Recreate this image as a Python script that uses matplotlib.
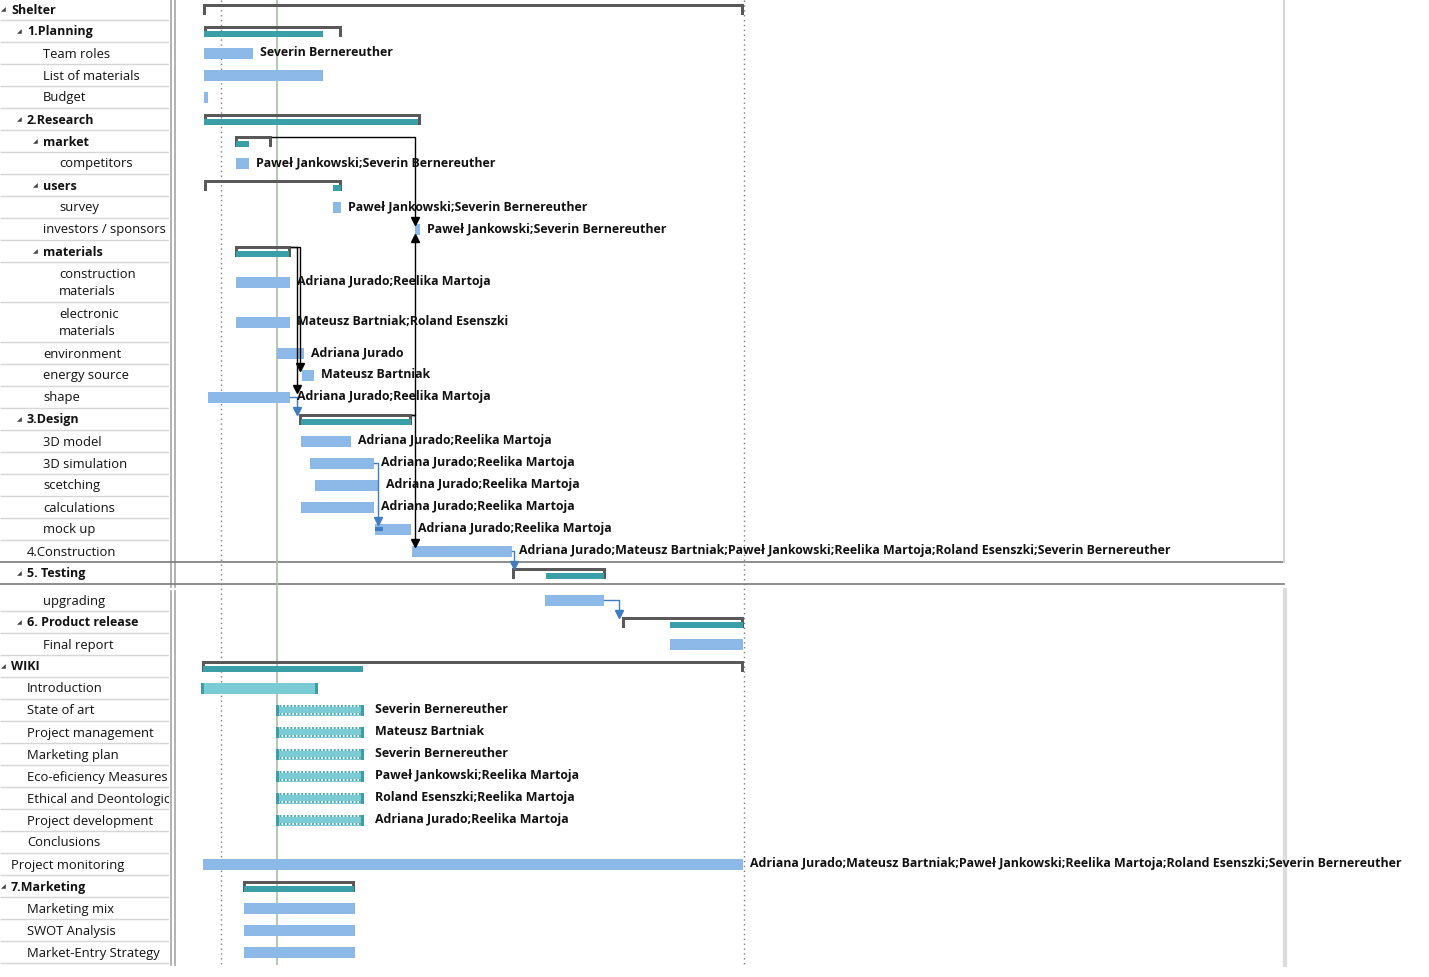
import matplotlib
matplotlib.use("Agg")
import matplotlib.pyplot as plt
from matplotlib.patches import Rectangle

# ---------------- data ----------------
task_names = [
    "Shelter", "1.Planning", "Team roles", "List of materials", "Budget",
    "2.Research", "market", "competitors", "users", "survey",
    "investors / sponsors", "materials", "construction\nmaterials", "electronic\nmaterials",
    "environment", "energy source", "shape", "3.Design", "3D model", "3D simulation",
    "scetching", "calculations", "mock up", "4.Construction", "5. Testing",
    "upgrading", "6. Product release", "Final report", "WIKI", "Introduction",
    "State of art", "Project management", "Marketing plan", "Eco-eficiency Measures",
    "Ethical and Deontological Aspects", "Project development", "Conclusions",
    "Project monitoring", "7.Marketing", "Marketing mix", "SWOT Analysis",
    "Market-Entry Strategy",
]
outline_level = [0, 1, 2, 2, 2, 1, 2, 3, 2, 3, 2, 2, 3, 3, 2, 2, 2, 1, 2, 2, 2, 2, 2, 1, 1,
                 2, 1, 2, 0, 1, 1, 1, 1, 1, 1, 1, 1, 0, 0, 1, 1, 1]
bar_kind = ["summary", "summary", "task", "task", "task", "summary", "summary", "task",
            "summary", "task", "task", "summary", "task", "task", "task", "task", "task",
            "summary", "task", "task", "task", "task", "task", "task", "summary", "task",
            "summary", "task", "summary", "manual", "dotted", "dotted", "dotted", "dotted",
            "dotted", "dotted", "none", "task", "summary", "task", "task", "task"]
# start / finish in project days
start_day = [-0.1, 0, 0, 0, 0, 0, 3.9, 4.0, 0, 16.1, 26.4, 3.9, 4.0, 4.0, 9.1, 12.25, 0.5,
             11.9, 12.1, 13.25, 13.9, 12.1, 21.4, 26.0, 38.5, 42.6, 52.25, 58.25, -0.25,
             -0.4, 9.0, 9.0, 9.0, 9.0, 9.0, 9.0, None, -0.1, 4.9, 5.0, 5.0, 5.0]
finish_day = [67.5, 17.25, 6.1, 14.9, 0.5, 27.1, 8.5, 5.6, 17.25, 17.1, 27.0, 10.9, 10.75,
              10.75, 12.5, 13.75, 10.75, 26.0, 18.4, 21.25, 21.9, 21.25, 25.9, 38.5, 50.25,
              50.0, 67.5, 67.4, 67.5, 14.25, 20.0, 20.0, 20.0, 20.0, 20.0, 20.0, None,
              67.4, 18.9, 18.9, 18.9, 18.9]
# rolled-up (teal) segment of summary bars
rollup_start = [None, 0, None, None, None, 0, 4.0, None, 16.1, None, None, 4.0, None, None,
                None, None, None, 12.1, None, None, None, None, None, None, 42.75, None,
                58.25, None, -0.1, None, None, None, None, None, None, None, None, None,
                5.0, None, None, None]
rollup_end = [None, 14.9, None, None, None, 26.75, 5.6, None, 17.1, None, None, 10.6, None,
              None, None, None, None, 25.9, None, None, None, None, None, None, 50.0, None,
              67.4, None, 19.9, None, None, None, None, None, None, None, None, None,
              18.75, None, None, None]
AJ, MB, PJ, RM, RE, SB = ("Adriana Jurado", "Mateusz Bartniak", "Paweł Jankowski",
                          "Reelika Martoja", "Roland Esenszki", "Severin Bernereuther")
ALL = ";".join([AJ, MB, PJ, RM, RE, SB])
resources = ["", "", SB, "", "", "", "", PJ + ";" + SB, "", PJ + ";" + SB, PJ + ";" + SB, "",
             AJ + ";" + RM, MB + ";" + RE, AJ, MB, AJ + ";" + RM, "", AJ + ";" + RM,
             AJ + ";" + RM, AJ + ";" + RM, AJ + ";" + RM, AJ + ";" + RM, ALL, "", "", "", "",
             "", "", SB, MB, SB, PJ + ";" + RM, RE + ";" + RM, AJ + ";" + RM, "", ALL, "", "",
             "", ""]
row_units = [1] * 12 + [40 / 22, 40 / 22] + [1] * 28
mock_up_progress = (21.4, 22.4)
# dependency links: (from row, to row, routing day, colour key)
links = [(6, 10, 26.4, "k"), (17, 10, 26.4, "k"), (17, 23, 26.4, "k"),
         (11, 15, 12.0, "k"), (11, 16, 11.6, "k"), (16, 17, 11.6, "b"),
         (19, 22, 21.75, "b"), (23, 24, 38.75, "b"), (25, 26, 51.9, "b")]
status_days = [2.1, 67.5]
today_day = 9.1

# ---------------- layout ----------------
W, H, DPI = 1429, 977, 100
ROW = 22.0
PX_PER_DAY = 8.0
X0PX = 204.0
GANTT_LEFT = 176
BORDER_X = 1284
SPLIT_TOP, SPLIT_BOT, GAP = 562, 584, 5

C_BRACKET = "#595959"
C_TEAL = "#3a9fa7"
C_TASK = "#8db9e8"
C_MAN = "#7acbd3"
C_MAN_CAP = "#3e9ea6"
C_LINKB = "#3f7dc3"

FONT = ["Open Sans", "DejaVu Sans"]
plt.rcParams["font.family"] = FONT

fig = plt.figure(figsize=(W / DPI, H / DPI), dpi=DPI)
fig.patch.set_facecolor("white")

# row geometry
tops, centers = [], []
y = -2.0
for i, u in enumerate(row_units):
    if i == 25:
        y += GAP
    h = u * ROW
    tops.append(y)
    centers.append(y + h / 2)
    y += h
bottoms = [t + u * ROW for t, u in zip(tops, row_units)]
table_bottom = bottoms[-1]

# overlay for frame lines (pixel coords)
ov = fig.add_axes([0, 0, 1, 1])
ov.set_xlim(0, W)
ov.set_ylim(H, 0)
ov.axis("off")

# table axes
TW = 169
axt = fig.add_axes([0, 0, TW / W, 1])
axt.set_xlim(0, TW)
axt.set_ylim(H, 0)
axt.axis("off")

# gantt axes
axg = fig.add_axes([GANTT_LEFT / W, 0, (W - GANTT_LEFT) / W, 1])
axg.set_xlim((GANTT_LEFT - X0PX) / PX_PER_DAY, (W - X0PX) / PX_PER_DAY)
axg.set_ylim(H, 0)
axg.axis("off")
dpx = 1.0 / PX_PER_DAY  # one pixel in days

# ---- table ----
for i, name in enumerate(task_names):
    lvl = outline_level[i]
    summ = bar_kind[i] == "summary"
    tx = 11 + 16 * lvl
    axt.text(tx, centers[i] + 1.0, name, fontsize=9.0 if summ else 9.4, va="center",
             ha="left", fontweight="bold" if summ else "normal", color="#111111",
             clip_on=True, linespacing=1.35)
    if summ:
        axt.text(tx - 8, centers[i] + 0.5, "\u25e2", fontsize=4.5, va="center", ha="center",
                 color="#404040", family="DejaVu Sans")
    b = bottoms[i]
    if i not in (23, 24):
        axt.plot([0, TW], [b, b], color="#d6d6d6", lw=1.0, solid_capstyle="butt")

# ---- gantt grid lines ----
axg.vlines(status_days, 0, table_bottom + 2, colors="#7f7f7f", linestyles=(0, (1, 2.5)), lw=1.0)
axg.vlines([today_day], 0, table_bottom + 2, colors="#a3c2a3", lw=1.2)

# ---- bars ----
for i in range(len(task_names)):
    k = bar_kind[i]
    s, f, c = start_day[i], finish_day[i], centers[i]
    if k == "none":
        continue
    if k == "summary":
        axg.add_patch(Rectangle((s, c - 5.5), f - s, 3, color=C_BRACKET, lw=0, zorder=3))
        axg.add_patch(Rectangle((s, c - 5.5), 3 * dpx, 11.5, color=C_BRACKET, lw=0, zorder=3))
        axg.add_patch(Rectangle((f - 3 * dpx, c - 5.5), 3 * dpx, 11.5, color=C_BRACKET, lw=0, zorder=3))
        if rollup_start[i] is not None:
            axg.add_patch(Rectangle((rollup_start[i], c - 0.5), rollup_end[i] - rollup_start[i], 6,
                                    color=C_TEAL, lw=0, zorder=4))
    elif k == "task":
        axg.add_patch(Rectangle((s, c - 5.5), f - s, 11, color=C_TASK, lw=0, zorder=3))
    elif k == "manual":
        axg.add_patch(Rectangle((s, c - 5.5), f - s, 11, color=C_MAN, lw=0, zorder=3))
        axg.add_patch(Rectangle((s, c - 5.5), 3 * dpx, 11, color=C_MAN_CAP, lw=0, zorder=4))
        axg.add_patch(Rectangle((f - 3 * dpx, c - 5.5), 3 * dpx, 11, color=C_MAN_CAP, lw=0, zorder=4))
    elif k == "dotted":
        axg.add_patch(Rectangle((s, c - 5.5), f - s, 11, color=C_MAN, lw=0, zorder=3))
        for yy in (c - 4, c + 4):
            axg.plot([s, f], [yy, yy], color="white", lw=1.3, zorder=4, solid_capstyle="butt")
            axg.plot([s, f], [yy, yy], color=C_MAN_CAP, lw=1.3, zorder=5,
                     linestyle=(0, (1, 1)))
        axg.add_patch(Rectangle((s, c - 5.5), 3 * dpx, 11, color=C_MAN_CAP, lw=0, zorder=6))
        axg.add_patch(Rectangle((f - 3 * dpx, c - 5.5), 3 * dpx, 11, color=C_MAN_CAP, lw=0, zorder=6))
    if resources[i]:
        off = 7 + (4 if k == "dotted" else 0)
        axg.annotate(resources[i], xy=(f, c - 0.5), xytext=(off * 72 / DPI, 0),
                     textcoords="offset points", fontsize=8.9, fontweight="bold",
                     va="center", ha="left", color="#111111", zorder=10,
                     annotation_clip=False)

# mock up progress line
axg.plot(mock_up_progress, [centers[22]] * 2, color=C_LINKB, lw=3, zorder=5,
         solid_capstyle="butt")

# ---- links ----
for fr, to, via, ck in links:
    col = "black" if ck == "k" else C_LINKB
    fy = centers[fr] - 4 if bar_kind[fr] == "summary" else centers[fr]
    fx = finish_day[fr]
    if centers[to] > centers[fr]:
        ty = centers[to] - 5.5
        marker, my = "v", ty - 3
    else:
        ty = centers[to] + 5.5
        marker, my = "^", ty + 3
    axg.plot([fx, via, via], [fy, fy, my], color=col, lw=1.0, zorder=7)
    axg.plot([via], [my], marker=marker, color=col, markersize=5.5, zorder=8, lw=0)

# ---- frame lines ----
ov.plot([171, 171], [0, 587], color="#a6a6a6", lw=1.2)
ov.plot([175, 175], [0, 587], color="#a6a6a6", lw=1.2)
ov.plot([171, 171], [591, table_bottom + 2], color="#a6a6a6", lw=1.2)
ov.plot([175, 175], [591, table_bottom + 2], color="#a6a6a6", lw=1.2)
ov.plot([0, BORDER_X], [SPLIT_TOP, SPLIT_TOP], color="#7a7a7a", lw=1.2)
ov.plot([0, BORDER_X], [SPLIT_BOT, SPLIT_BOT], color="#7a7a7a", lw=1.2)
ov.plot([BORDER_X, BORDER_X], [0, SPLIT_TOP], color="#d4d4d4", lw=1.5)
ov.plot([BORDER_X + 1, BORDER_X + 1], [SPLIT_BOT + 6, table_bottom + 2], color="#dcdcdc", lw=3)

fig.savefig("out.png", dpi=DPI, facecolor="white")
